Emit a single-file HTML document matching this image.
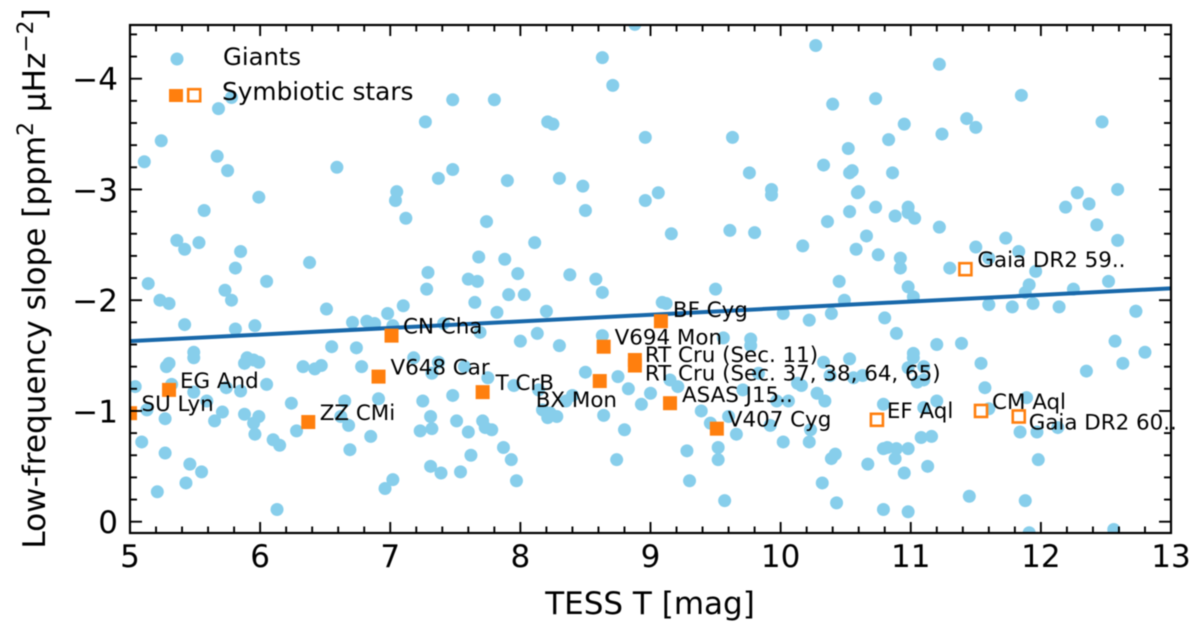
<!DOCTYPE html>
<html lang="en">
<head>
<meta charset="utf-8">
<title>Low-frequency slope vs TESS T</title>
<style>
html,body{margin:0;padding:0;background:#fff;width:1200px;height:628px;overflow:hidden}
svg{display:block;filter:blur(0.45px)}
text{font-family:"DejaVu Sans","Liberation Sans",sans-serif;fill:#000}
</style>
</head>
<body>
<svg id="chart" xmlns="http://www.w3.org/2000/svg" width="1200" height="628" viewBox="0 0 1200 628">
  <defs><clipPath id="plot-clip"><rect x="130" y="25" width="1041" height="508"/></clipPath></defs>
  <g id="giants" clip-path="url(#plot-clip)"></g>
  <g id="fit" clip-path="url(#plot-clip)"></g>
  <g id="symb" clip-path="url(#plot-clip)"></g>
  <g id="labels"></g>
  <g id="axes"></g>
  <g>
    <circle cx="177" cy="59" r="6.5" fill="#87ceeb"/>
    <text x="223" y="65" font-size="24.3">Giants</text>
    <rect x="169" y="89" width="14" height="13" fill="#ff7f0e"/>
    <rect x="188.2" y="89.2" width="12" height="12" fill="#fff" stroke="#ff7f0e" stroke-width="2.6"/>
    <text x="222" y="100" font-size="24.8">Symbiotic stars</text>
  </g>
  <text x="650" y="614" font-size="31" text-anchor="middle">TESS T [mag]</text>
  <text transform="translate(45,278.5) rotate(-90)" font-size="31.1" text-anchor="middle">Low-frequency slope [ppm<tspan font-size="21.8" dy="-12">2</tspan><tspan dy="12"> µHz</tspan><tspan font-size="21.8" dy="-12">−2</tspan><tspan dy="12">]</tspan></text>
</svg>
<script>
const giantMag = [
5.78,5.50,5.68,5.24,5.67,5.11,5.75,6.59,7.05,7.04,
5.99,5.57,7.12,5.36,5.42,5.53,5.85,5.81,6.38,6.05,
5.14,5.73,5.78,5.23,5.30,6.51,6.98,6.71,6.82,6.88,
7.02,5.42,5.81,5.96,5.49,5.49,6.55,6.74,5.30,5.28,
5.90,5.88,5.95,5.99,6.33,6.42,6.47,6.78,5.04,5.32,
6.05,5.74,5.85,5.49,5.59,6.24,6.65,6.91,5.13,5.27,
5.71,5.88,5.99,5.65,5.95,6.62,6.68,6.28,5.96,6.85,
5.09,6.10,6.15,6.69,5.27,5.46,5.55,5.43,5.21,7.02,
6.96,6.13,8.63,8.71,7.48,7.80,7.27,8.21,8.25,8.96,
9.63,9.76,7.48,7.37,7.90,8.30,8.48,9.06,8.96,9.93,
9.93,8.50,7.74,9.16,9.61,9.80,10.17,8.11,7.68,7.88,
7.29,7.28,7.98,8.38,8.58,7.60,7.67,8.63,7.91,8.03,
9.50,7.10,7.65,7.82,8.20,9.09,9.12,10.02,7.41,7.69,
8.00,8.13,8.30,8.63,7.18,7.37,7.57,7.32,7.75,7.95,
7.25,7.48,7.31,7.23,7.32,7.51,7.60,7.71,7.73,7.78,
7.87,7.93,7.62,7.31,7.39,7.54,7.97,8.14,8.17,8.21,
8.28,8.23,8.35,8.40,8.50,8.75,8.83,9.00,8.93,8.64,
8.80,8.74,9.15,9.21,9.39,9.46,9.60,9.66,9.92,9.52,
9.52,9.28,9.30,9.57,10.02,9.56,9.77,9.77,9.83,9.71,
9.97,10.06,10.13,8.88,10.22,10.39,10.80,10.89,11.20,11.39,
12.73,12.57,12.80,12.63,12.35,11.54,11.57,11.89,11.02,11.02,
10.53,10.33,10.98,11.10,11.05,11.10,10.63,10.56,10.38,10.16,
10.28,10.34,10.79,11.10,11.20,11.60,10.23,10.22,10.42,10.39,
10.32,10.43,10.79,10.98,10.67,10.79,10.82,10.89,10.98,10.88,
10.95,11.08,11.16,11.13,11.45,11.84,11.97,12.13,11.98,11.88,
11.91,12.56,10.27,11.22,11.85,10.40,10.73,12.47,11.43,11.50,
10.95,11.24,10.83,10.52,10.33,10.55,10.53,10.86,12.59,12.28,
12.37,12.19,12.43,10.60,10.59,10.73,10.53,10.36,10.98,10.98,
10.88,11.03,11.22,10.66,12.59,11.73,10.58,10.75,10.92,10.92,
11.50,11.83,11.30,11.60,11.96,10.45,10.98,11.91,11.88,12.25,
12.52,10.49,11.02,11.60,11.78,11.94,12.14,12.73
];
const giantSlope = [
-3.83,-3.85,-3.73,-3.44,-3.30,-3.25,-3.17,-3.20,-2.98,-2.90,
-2.93,-2.81,-2.74,-2.54,-2.46,-2.52,-2.44,-2.29,-2.34,-2.17,
-2.15,-2.09,-2.00,-2.00,-1.97,-1.92,-1.88,-1.80,-1.81,-1.79,
-1.77,-1.78,-1.74,-1.77,-1.53,-1.48,-1.58,-1.57,-1.43,-1.40,
-1.48,-1.43,-1.46,-1.44,-1.40,-1.38,-1.41,-1.40,-1.22,-1.24,
-1.24,-1.21,-1.18,-1.17,-1.09,-1.07,-1.09,-1.11,-1.01,-0.93,
-0.99,-0.97,-0.95,-0.91,-0.89,-0.95,-0.87,-0.82,-0.79,-0.77,
-0.72,-0.74,-0.69,-0.65,-0.62,-0.52,-0.45,-0.35,-0.27,-0.38,
-0.30,-0.11,-4.19,-3.94,-3.81,-3.81,-3.61,-3.61,-3.59,-3.47,
-3.47,-3.15,-3.18,-3.10,-3.08,-3.10,-3.03,-2.97,-2.90,-3.00,
-2.95,-2.81,-2.71,-2.60,-2.63,-2.61,-2.49,-2.52,-2.39,-2.37,
-2.25,-2.10,-2.24,-2.23,-2.19,-2.19,-2.17,-2.07,-2.05,-2.05,
-2.10,-1.95,-1.98,-1.89,-1.90,-1.98,-1.97,-1.88,-1.79,-1.71,
-1.63,-1.70,-1.59,-1.68,-1.48,-1.44,-1.40,-1.34,-1.30,-1.23,
-1.09,-1.14,-0.95,-0.82,-0.84,-0.91,-0.81,-0.91,-0.85,-0.83,
-0.67,-0.56,-0.60,-0.50,-0.44,-0.45,-0.37,-1.19,-1.01,-0.94,
-0.95,-0.98,-1.09,-1.14,-1.35,-1.31,-1.20,-1.16,-1.06,-0.96,
-0.83,-0.56,-1.28,-1.22,-1.00,-0.89,-0.95,-0.79,-0.87,-0.67,
-0.56,-0.64,-0.37,-0.19,-0.72,-1.66,-1.65,-1.59,-1.34,-1.19,
-1.09,-1.09,-1.25,-4.49,-1.82,-1.88,-1.84,-1.70,-1.60,-1.61,
-1.90,-1.63,-1.53,-1.43,-1.36,-1.43,-1.21,-1.12,-1.52,-1.48,
-1.47,-1.44,-1.39,-1.40,-1.26,-1.28,-1.32,-1.30,-1.32,-1.23,
-1.16,-1.09,-1.06,-1.03,-1.09,-1.02,-0.83,-0.72,-0.61,-0.57,
-0.35,-0.17,-0.11,-0.09,-0.52,-0.66,-0.67,-0.66,-0.66,-0.57,
-0.44,-0.76,-0.77,-0.50,-0.23,-0.81,-0.81,-0.85,-0.56,-0.19,
0.10,0.07,-4.30,-4.13,-3.85,-3.77,-3.82,-3.61,-3.64,-3.56,
-3.59,-3.50,-3.45,-3.37,-3.22,-3.17,-3.15,-3.15,-3.00,-2.97,
-2.87,-2.84,-2.68,-2.98,-2.97,-2.84,-2.80,-2.71,-2.84,-2.79,
-2.76,-2.74,-2.66,-2.58,-2.54,-2.56,-2.46,-2.41,-2.38,-2.29,
-2.48,-2.44,-2.29,-2.38,-2.26,-2.17,-2.12,-2.14,-2.07,-2.10,
-2.17,-2.00,-2.03,-1.96,-1.94,-1.97,-1.94,-1.90
];
const fitMag = [5, 13];
const fitSlope = [-1.63, -2.107];
const symbName = ["SU Lyn","EG And","ZZ CMi","CN Cha","V648 Car","T CrB","BX Mon","V694 Mon","BF Cyg","RT Cru (Sec. 11)","RT Cru (Sec. 37, 38, 64, 65)","ASAS J15..","V407 Cyg","Gaia DR2 59..","EF Aql","CM Aql","Gaia DR2 60.."];
const symbMag = [5.00,5.30,6.37,7.01,6.91,7.71,8.61,8.64,9.08,8.88,8.88,9.15,9.51,11.42,10.74,11.54,11.83];
const symbSlope = [-0.98,-1.19,-0.90,-1.68,-1.31,-1.17,-1.27,-1.58,-1.81,-1.46,-1.41,-1.07,-0.84,-2.28,-0.92,-1.00,-0.95];
const symbFilled = [1,1,1,1,1,1,1,1,1,1,1,1,1,0,0,0,0];
const xTickValues = [5,6,7,8,9,10,11,12,13];
const xTickLabels = ["5","6","7","8","9","10","11","12","13"];
const yTickValues = [-4,-3,-2,-1,0];
const yTickLabels = ["−4","−3","−2","−1","0"];

/* label placement relative to each marker, in pixels: layout only, not data */
const labelDx = [11.5,11,11.5,11.5,12,13,-64,11,12,10,10,12,11,12,10,11,10];
const labelDy = [-2,-2,-2,-2,-2,-2,26,-2,-4,2,15,-1,-2,-2,-2,-2,13];

const SVG_NS = "http://www.w3.org/2000/svg";
const PLOT = {left:130, right:1171, top:25, bottom:533};
function xScale(v){ return 130 + (v - 5) * 130.125; }
function yScale(v){ return 521.7 + v * 110.75; }
function make(tag, attrs, parent){
  const e = document.createElementNS(SVG_NS, tag);
  for (const k in attrs) e.setAttribute(k, attrs[k]);
  parent.appendChild(e);
  return e;
}

const giantsG = document.getElementById("giants");
giantMag.forEach(function(m, i){
  const c = make("circle", {cx:xScale(m), cy:yScale(giantSlope[i]), r:6.5, fill:"#87ceeb"}, giantsG);
  
  
});

const fitG = document.getElementById("fit");
const fitLine = make("line", {x1:xScale(fitMag[0]), y1:yScale(fitSlope[0]), x2:xScale(fitMag[1]), y2:yScale(fitSlope[1]), stroke:"#1868aa", "stroke-width":4}, fitG);



const symbG = document.getElementById("symb");
const labelG = document.getElementById("labels");
symbMag.forEach(function(m, i){
  const px = xScale(m), py = yScale(symbSlope[i]);
  let r;
  if (symbFilled[i]) {
    r = make("rect", {x:px-7, y:py-7, width:14, height:14, fill:"#ff7f0e"}, symbG);
  } else {
    r = make("rect", {x:px-6, y:py-6, width:12, height:12, fill:"#fff", stroke:"#ff7f0e", "stroke-width":2.6}, symbG);
  }
  
  
  const t = make("text", {x:px+labelDx[i], y:py+labelDy[i], "font-size":21.4}, labelG);
  t.textContent = symbName[i];
  
  
});

const axesG = document.getElementById("axes");
function tick(x1, y1, x2, y2, name){
  const l = make("line", {x1:x1, y1:y1, x2:x2, y2:y2, stroke:"#000", "stroke-width":1.9}, axesG);
  
  
}
for (let k = 0; k <= 40; k++) {
  const v = 5 + k * 0.2;
  const px = xScale(v);
  const major = k % 5 === 0;
  if (k === 0 || k === 40) continue;
  const len = major ? 11 : 6.5;
  tick(px, PLOT.bottom, px, PLOT.bottom - len, major ? 'x-major-tick' : 'x-minor-tick');
  tick(px, PLOT.top, px, PLOT.top + len, major ? 'x-major-tick-top' : 'x-minor-tick-top');
}
for (let k = 0; k <= 22; k++) {
  const v = -k * 0.2;
  const py = yScale(v);
  const major = k % 5 === 0;
  const len = major ? 12 : 7;
  tick(PLOT.left, py, PLOT.left + len, py, major ? 'y-major-tick' : 'y-minor-tick');
  tick(PLOT.right, py, PLOT.right - len, py, major ? 'y-major-tick-right' : 'y-minor-tick-right');
}
const frame = make("rect", {x:PLOT.left, y:PLOT.top, width:PLOT.right-PLOT.left, height:PLOT.bottom-PLOT.top, fill:"none", stroke:"#000", "stroke-width":2.2}, axesG);



xTickValues.forEach(function(v, i){
  const t = make("text", {x:xScale(v), y:567, "font-size":31, "text-anchor":"middle"}, axesG);
  t.textContent = xTickLabels[i];
  
  
});
yTickValues.forEach(function(v, i){
  const t = make("text", {x:118, y:yScale(v)+11.5, "font-size":31, "text-anchor":"end"}, axesG);
  t.textContent = yTickLabels[i];
  
  
});
</script>
</body>
</html>
